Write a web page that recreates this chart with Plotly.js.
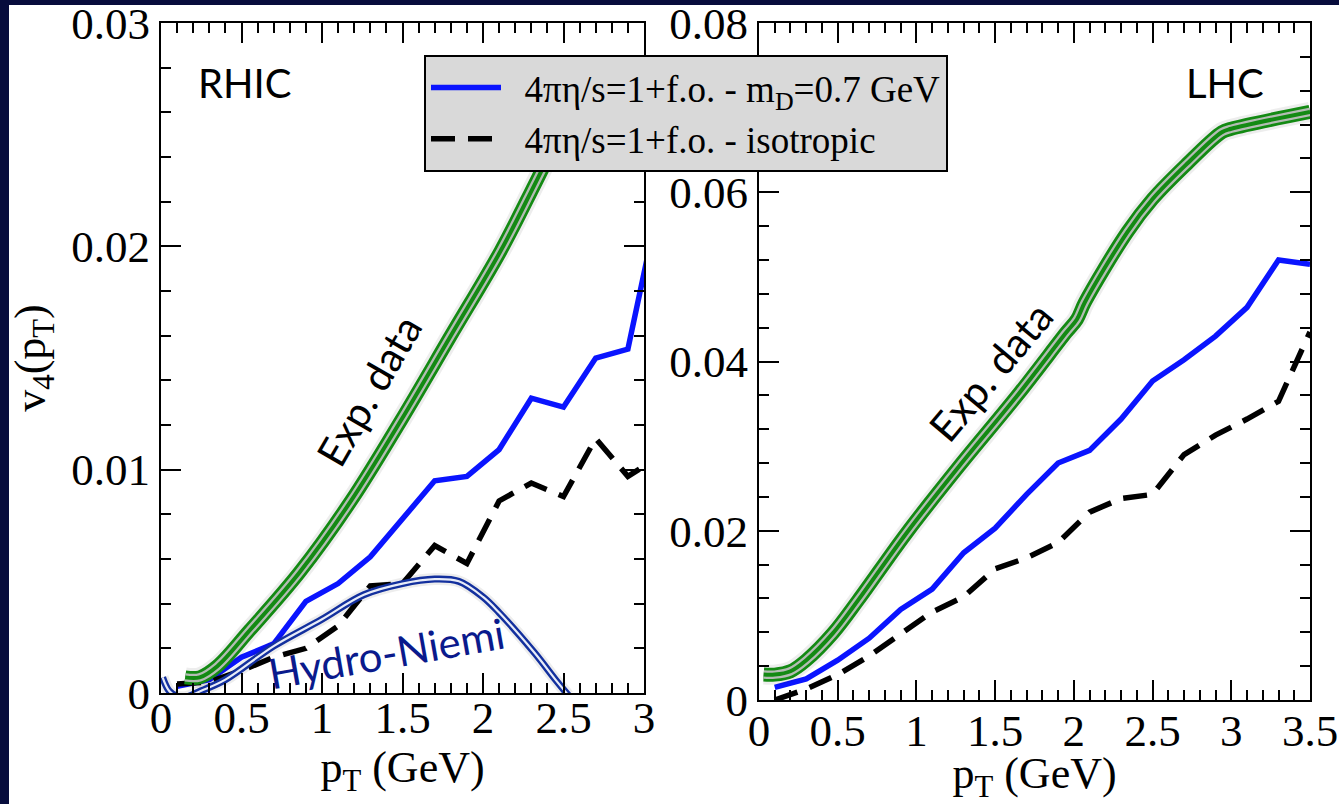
<!DOCTYPE html>
<html>
<head>
<meta charset="utf-8">
<script src="https://cdn.plot.ly/plotly-3.0.1.min.js"></script>
<style>
html, body { margin: 0; padding: 0; background: #ffffff; }
#chart { width: 1339px; height: 804px; }
</style>
</head>
<body>
<div id="chart"></div>
<script>
// ---------------- DATA ----------------
// RHIC panel
const rhicPt = [0.1, 0.3, 0.5, 0.7, 0.9, 1.1, 1.3, 1.5, 1.7, 1.9, 2.1, 2.3, 2.5, 2.7, 2.9, 3.1];
const rhicMd = [0.0003, 0.0006, 0.0016, 0.0022, 0.0041, 0.0049, 0.0061, 0.0078, 0.0095, 0.0097, 0.0109, 0.0132, 0.0128, 0.0150, 0.0154, 0.0222];
const rhicIso = [0.0004, 0.0005, 0.0010, 0.0016, 0.0020, 0.0030, 0.0048, 0.0049, 0.0066, 0.0058, 0.0086, 0.0094, 0.0088, 0.0114, 0.0097, 0.0106];
const rhicExpPt = [0.15, 0.24, 0.35, 0.55, 0.86, 1.18, 1.49, 1.80, 2.11, 2.33, 2.60];
const rhicExpV4 = [0.0007, 0.0007, 0.0012, 0.0028, 0.0054, 0.0086, 0.0122, 0.0160, 0.0198, 0.0229, 0.0268];
const rhicHydroPt = [0.01, 0.05, 0.10, 0.16, 0.25, 0.40, 0.70, 1.00, 1.26, 1.50, 1.70, 1.85, 2.00, 2.10, 2.32, 2.45, 2.53];
const rhicHydroV4 = [0.0007, 0.0001, -0.00015, -0.00017, 0.0001, 0.0006, 0.0021, 0.0033, 0.0044, 0.0049, 0.0051, 0.0050, 0.0043, 0.0036, 0.0018, 0.0006, -0.0001];

// LHC panel
const lhcPt = [0.1, 0.3, 0.5, 0.7, 0.9, 1.1, 1.3, 1.5, 1.7, 1.9, 2.1, 2.3, 2.5, 2.7, 2.9, 3.1, 3.3, 3.5];
const lhcMd = [0.0015, 0.0025, 0.0047, 0.0073, 0.0107, 0.0131, 0.0174, 0.0203, 0.0243, 0.0280, 0.0295, 0.0332, 0.0377, 0.0402, 0.0430, 0.0464, 0.0520, 0.0515];
const lhcIso = [0.0000, 0.0013, 0.0030, 0.0052, 0.0078, 0.0104, 0.0122, 0.0155, 0.0168, 0.0186, 0.0222, 0.0238, 0.0243, 0.0290, 0.0313, 0.0332, 0.0353, 0.0435];
const lhcExpPt = [0.03, 0.10, 0.20, 0.30, 0.47, 0.63, 0.94, 1.27, 1.65, 1.95, 2.02, 2.07, 2.34, 2.50, 2.71, 2.94, 3.00, 3.50];
const lhcExpV4 = [0.0030, 0.0030, 0.0034, 0.0047, 0.0079, 0.0118, 0.0198, 0.0276, 0.0362, 0.0434, 0.0450, 0.0470, 0.0553, 0.0592, 0.0632, 0.0671, 0.0675, 0.0695];

// Labels
const seriesNames = ['&nbsp;&nbsp;4πη/s=1+f.o. - m<sub>D</sub>=0.7 GeV', '&nbsp;&nbsp;4πη/s=1+f.o. - isotropic'];
const xTitle = 'p<sub>T</sub> (GeV)';
const yTitle = 'v<sub>4</sub>(p<sub>T</sub>)';
const panelLabels = ['RHIC', 'LHC'];
const expLabel = 'Exp. data';
const hydroLabel = 'Hydro-Niemi';

// ---------------- STYLE ----------------
const serif = 'Liberation Serif, Times New Roman, serif';
const sans = 'Lato, Open Sans, sans-serif';
const BLUE = '#0a14ff';
const GREEN = '#138a13';
const GREY = '#b4bcb4';
const NAVY = '#13309e';
const W = 1339, H = 804;

function band(x, y, xa, ya) {
  return [
    {x: x, y: y, xaxis: xa, yaxis: ya, mode: 'lines', line: {color: 'rgba(0,0,0,0.07)', width: 20, shape: 'spline'}, showlegend: false, hoverinfo: 'skip'},
    {x: x, y: y, xaxis: xa, yaxis: ya, mode: 'lines', line: {color: GREEN, width: 14, shape: 'spline'}, showlegend: false, hoverinfo: 'skip'},
    {x: x, y: y, xaxis: xa, yaxis: ya, mode: 'lines', line: {color: GREY, width: 8.5, shape: 'spline'}, showlegend: false, hoverinfo: 'skip'},
    {x: x, y: y, xaxis: xa, yaxis: ya, mode: 'lines', line: {color: GREEN, width: 4, shape: 'spline'}, showlegend: false, hoverinfo: 'skip'}
  ];
}

const traces = [
  {x: rhicPt, y: rhicMd, xaxis: 'x', yaxis: 'y', mode: 'lines', name: seriesNames[0], line: {color: BLUE, width: 5.5}, legendrank: 1},
  {x: rhicPt, y: rhicIso, xaxis: 'x', yaxis: 'y', mode: 'lines', name: seriesNames[1], line: {color: '#000', width: 5.5, dash: '24px,13px'}, legendrank: 2},
  {x: lhcPt, y: lhcMd, xaxis: 'x2', yaxis: 'y2', mode: 'lines', name: seriesNames[0], line: {color: BLUE, width: 5.5}, showlegend: false},
  {x: lhcPt, y: lhcIso, xaxis: 'x2', yaxis: 'y2', mode: 'lines', name: seriesNames[1], line: {color: '#000', width: 5.5, dash: '24px,13px'}, showlegend: false},
  ...band(rhicExpPt, rhicExpV4, 'x', 'y'),
  ...band(lhcExpPt, lhcExpV4, 'x2', 'y2'),
  {x: rhicHydroPt, y: rhicHydroV4, xaxis: 'x', yaxis: 'y', mode: 'lines', line: {color: 'rgba(0,0,0,0.07)', width: 12, shape: 'spline'}, showlegend: false, hoverinfo: 'skip'},
  {x: rhicHydroPt, y: rhicHydroV4, xaxis: 'x', yaxis: 'y', mode: 'lines', line: {color: NAVY, width: 7, shape: 'spline'}, showlegend: false, hoverinfo: 'skip'},
  {x: rhicHydroPt, y: rhicHydroV4, xaxis: 'x', yaxis: 'y', mode: 'lines', line: {color: '#e8ecf8', width: 2.2, shape: 'spline'}, showlegend: false, hoverinfo: 'skip'}
];

function axis(extra, minorDtick) {
  return Object.assign({
    showline: true, linecolor: '#000', linewidth: 2, mirror: 'allticks',
    ticks: 'inside', ticklen: 20, tickwidth: 2, tickcolor: '#000',
    showgrid: false, zeroline: false, fixedrange: true,
    ticklabeloverflow: 'allow',
    tickfont: {family: serif, size: 45, color: '#000'},
    minor: {ticks: 'inside', ticklen: 10, tickwidth: 2, tickcolor: '#000', dtick: minorDtick, showgrid: false}
  }, extra);
}

const titleFont = {family: serif, size: 44, color: '#000'};

const layout = {
  width: W, height: H,
  margin: {l: 0, r: 0, t: 0, b: 0},
  paper_bgcolor: '#ffffff', plot_bgcolor: '#ffffff',
  showlegend: true,
  legend: {
    x: 424 / W, y: 1 - 55 / H, xanchor: 'left', yanchor: 'top',
    bgcolor: '#d9d9d9', bordercolor: '#000', borderwidth: 2,
    font: {family: serif, size: 37, color: '#000'},
    itemwidth: 70, tracegroupgap: 0
  },
  xaxis: axis({domain: [161 / W, 644 / W], range: [0, 3], tick0: 0, dtick: 0.5, anchor: 'y', ticklabelstandoff: -16,
    title: {text: xTitle, font: titleFont, standoff: 6}}, 0.1),
  yaxis: axis({domain: [1 - 693 / H, 1 - 23 / H], range: [0, 0.03], tick0: 0, dtick: 0.01, anchor: 'x',
    title: {text: yTitle, font: titleFont, standoff: 12}}, 0.002),
  xaxis2: axis({domain: [759 / W, 1310 / W], range: [0, 3.5], tick0: 0, dtick: 0.5, anchor: 'y2', ticklabelstandoff: -10,
    title: {text: xTitle, font: titleFont, standoff: 7}}, 0.1),
  yaxis2: axis({domain: [1 - 700 / H, 1 - 23 / H], range: [0, 0.08], tick0: 0, dtick: 0.02, anchor: 'x2'}, 0.004),
  shapes: [
    {type: 'rect', xref: 'paper', yref: 'paper', x0: 0, x1: 9 / W, y0: 0, y1: 1, fillcolor: '#070c3c', line: {width: 0}, layer: 'below'},
    {type: 'rect', xref: 'paper', yref: 'paper', x0: 0, x1: 1, y0: 1 - 5 / H, y1: 1, fillcolor: '#070c3c', line: {width: 0}, layer: 'below'}
  ],
  annotations: [
    {xref: 'x', yref: 'y', x: 0.52, y: 0.0273, text: panelLabels[0], showarrow: false, font: {family: sans, size: 40, color: '#000'}},
    {xref: 'x2', yref: 'y2', x: 2.96, y: 0.0729, text: panelLabels[1], showarrow: false, font: {family: sans, size: 40, color: '#000'}},
    {xref: 'x', yref: 'y', x: 1.29, y: 0.01355, text: expLabel, showarrow: false, textangle: -60, font: {family: sans, size: 41, color: '#000'}},
    {xref: 'x2', yref: 'y2', x: 1.47, y: 0.0388, text: expLabel, showarrow: false, textangle: -50, font: {family: sans, size: 41, color: '#000'}},
    {xref: 'x', yref: 'y', x: 1.4, y: 0.0018, text: hydroLabel, showarrow: false, textangle: -10, font: {family: sans, size: 42, color: '#0a1a8c'}}
  ]
};

Plotly.newPlot('chart', traces, layout, {displayModeBar: false, staticPlot: true});
</script>
</body>
</html>
